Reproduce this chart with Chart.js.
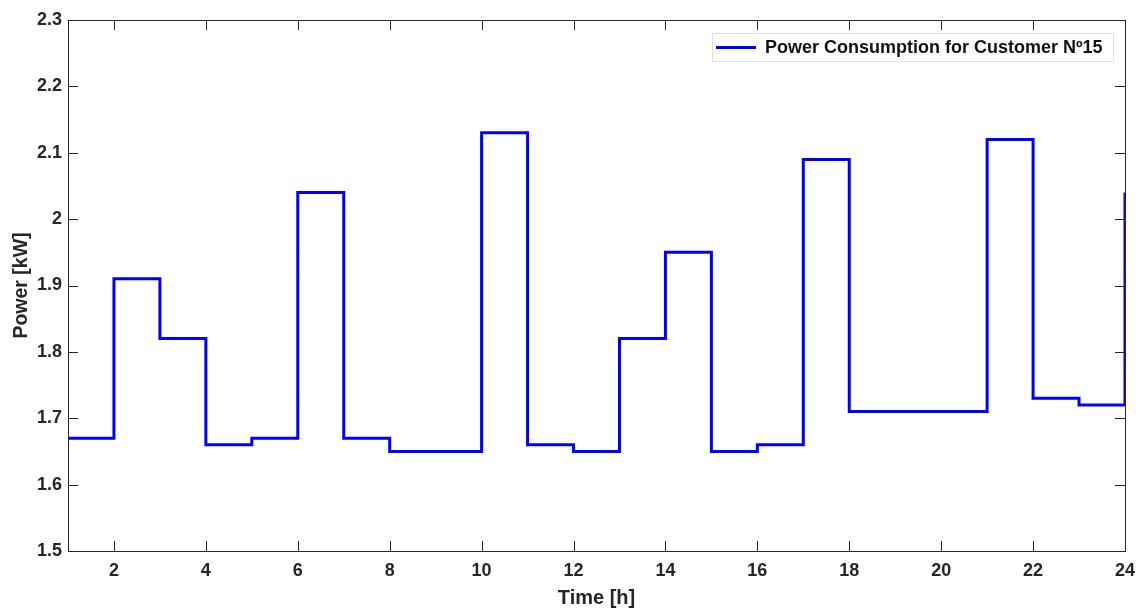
<!DOCTYPE html>
<html>
<head>
<meta charset="utf-8">
<script src="https://cdn.jsdelivr.net/npm/chart.js@4/dist/chart.umd.min.js"></script>
<style>
  html, body { margin: 0; padding: 0; background: #fff; }
  #wrap { width: 1144px; height: 610px; }
</style>
</head>
<body>
<div id="wrap"><canvas id="myChart"></canvas></div>
<script>
// Horas (eje x) y potencia por hora
const hours = [1, 2, 3, 4, 5, 6, 7, 8, 9, 10, 11, 12, 13, 14, 15, 16, 17, 18, 19, 20, 21, 22, 23, 24];
const power = [1.67, 1.91, 1.82, 1.66, 1.67, 2.04, 1.67, 1.65, 1.65, 2.13, 1.66, 1.65,
               1.82, 1.95, 1.65, 1.66, 2.09, 1.71, 1.71, 1.71, 2.12, 1.73, 1.72, 2.04];
const xTicks = [2, 4, 6, 8, 10, 12, 14, 16, 18, 20, 22, 24];
const yTicks = [1.5, 1.6, 1.7, 1.8, 1.9, 2.0, 2.1, 2.2, 2.3];
const seriesLabel = 'Power Consumption for Customer Nº15';

const axisColor = '#262626';
const fontFamily = '"Liberation Sans", Arial, sans-serif';

// Caja del eje con marcas hacia dentro (estilo Matlab) y leyenda interior
const boxPlugin = {
    id: 'boxPlugin',
    afterDatasetsDraw(chart) {
        const { ctx, chartArea: a, scales } = chart;
        ctx.save();
        ctx.strokeStyle = axisColor;
        ctx.lineWidth = 1;
        ctx.strokeRect(a.left + 0.5, a.top + 0.5, a.right - a.left, a.bottom - a.top);
        ctx.beginPath();
        xTicks.forEach(v => {
            const x = Math.round(scales.x.getPixelForValue(v)) + 0.5;
            ctx.moveTo(x, a.bottom); ctx.lineTo(x, a.bottom - 10);
            ctx.moveTo(x, a.top); ctx.lineTo(x, a.top + 10);
        });
        yTicks.forEach(v => {
            const y = Math.round(scales.y.getPixelForValue(v)) + 0.5;
            ctx.moveTo(a.left, y); ctx.lineTo(a.left + 10, y);
            ctx.moveTo(a.right, y); ctx.lineTo(a.right - 10, y);
        });
        ctx.stroke();

        // leyenda
        const bx = 712, by = 33, bw = 401, bh = 28;
        ctx.fillStyle = '#fff';
        ctx.fillRect(bx, by, bw, bh);
        ctx.strokeStyle = '#e0e0e0';
        ctx.strokeRect(bx + 0.5, by + 0.5, bw, bh);
        ctx.strokeStyle = '#0000ff';
        ctx.lineWidth = 3;
        ctx.beginPath();
        ctx.moveTo(bx + 4, by + 14.5); ctx.lineTo(bx + 44, by + 14.5);
        ctx.stroke();
        ctx.fillStyle = '#111';
        ctx.font = 'bold 18px ' + fontFamily;
        ctx.textBaseline = 'middle';
        ctx.fillText(chart.data.datasets[0].label, bx + 53, by + 15);
        ctx.restore();
    }
};

const ctx = document.getElementById('myChart').getContext('2d');
const powerChart = new Chart(ctx, {
    type: 'line',
    data: {
        datasets: [{
            label: seriesLabel,
            data: hours.map((h, i) => ({ x: h, y: power[i] })),
            borderColor: '#0000ff',
            borderWidth: 3,
            pointRadius: 0,
            stepped: true,
            fill: false
        }]
    },
    options: {
        responsive: true,
        maintainAspectRatio: false,
        animation: false,
        layout: { padding: { top: 20, right: 17, left: 0, bottom: 0 } },
        plugins: {
            legend: { display: false },
            tooltip: { enabled: false }
        },
        scales: {
            x: {
                type: 'linear',
                min: 1,
                max: 24,
                afterBuildTicks: s => { s.ticks = xTicks.map(v => ({ value: v })); },
                afterFit: s => { s.height = 59; },
                grid: { display: false, drawTicks: false },
                border: { display: false },
                ticks: {
                    color: axisColor,
                    padding: 9,
                    font: { family: fontFamily, size: 18, weight: 'bold' }
                },
                title: {
                    display: true,
                    text: 'Time [h]',
                    color: axisColor,
                    padding: { top: 4, bottom: 0 },
                    font: { family: fontFamily, size: 20, weight: 'bold' }
                }
            },
            y: {
                min: 1.5,
                max: 2.3,
                afterBuildTicks: s => { s.ticks = yTicks.map(v => ({ value: v })); },
                afterFit: s => { s.width = 68; },
                grid: { display: false, drawTicks: false },
                border: { display: false },
                ticks: {
                    color: axisColor,
                    padding: 6,
                    font: { family: fontFamily, size: 18, weight: 'bold' },
                    callback: v => String(Math.round(v * 10) / 10)
                },
                title: {
                    display: true,
                    text: 'Power [kW]',
                    color: axisColor,
                    padding: { top: 10, bottom: 4 },
                    font: { family: fontFamily, size: 19.5, weight: 'bold' }
                }
            }
        }
    },
    plugins: [boxPlugin]
});
</script>
</body>
</html>
